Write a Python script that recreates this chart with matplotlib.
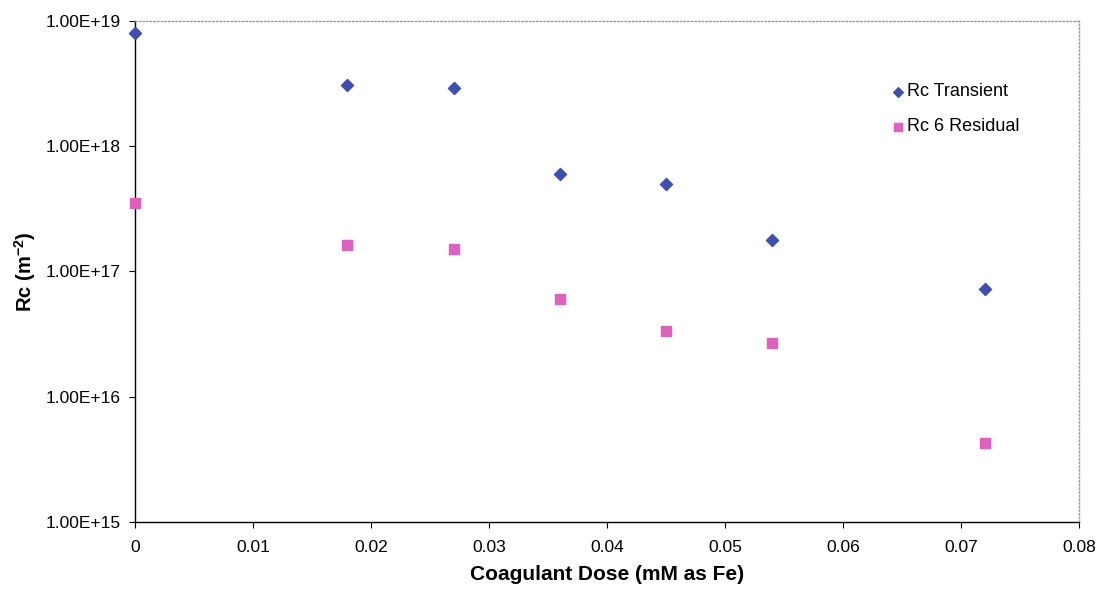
import numpy as np
import matplotlib.pyplot as plt
from matplotlib.ticker import FuncFormatter

# 数据
dose = [0, 0.018, 0.027, 0.036, 0.045, 0.054, 0.072]
rc_transient = [8.0e18, 3.1e18, 2.9e18, 6.0e17, 5.0e17, 1.8e17, 7.3e16]
rc_residual = [3.5e17, 1.63e17, 1.5e17, 6.0e16, 3.35e16, 2.7e16, 4.3e15]

plt.rcParams['font.family'] = ['Liberation Sans', 'DejaVu Sans']

fig = plt.figure(figsize=(11.03, 5.89), dpi=100)
ax = fig.add_axes([0.1224, 0.1138, 0.8559, 0.8505])

ax.scatter(dose, rc_transient, marker='D', s=38, color='#3f4fb0', label='Rc Transient', clip_on=False, zorder=3)
ax.scatter(dose, rc_residual, marker='s', s=48, color='#e060c0', label='Rc 6 Residual', clip_on=False, zorder=3)

ax.set_yscale('log')
ax.set_xlim(0, 0.08)
ax.set_ylim(1e15, 1e19)
ax.set_xticks(np.arange(0, 0.081, 0.01))
ax.set_xticklabels(['0', '0.01', '0.02', '0.03', '0.04', '0.05', '0.06', '0.07', '0.08'])
ax.set_yticks([1e15, 1e16, 1e17, 1e18, 1e19])
ax.yaxis.set_major_formatter(FuncFormatter(lambda v, p: '1.00E+%d' % round(np.log10(v))))
ax.yaxis.set_minor_locator(plt.NullLocator())
ax.tick_params(axis='both', direction='out', length=4, width=0.8, labelsize=12.5, colors='black')
ax.tick_params(axis='x', pad=9)
ax.tick_params(axis='y', pad=6)

for s in ['left', 'bottom']:
    ax.spines[s].set_color('black')
    ax.spines[s].set_linewidth(1.0)
for s in ['top', 'right']:
    ax.spines[s].set_color('#999999')
    ax.spines[s].set_linestyle(':')
    ax.spines[s].set_linewidth(1.0)

ax.set_xlabel('Coagulant Dose (mM as Fe)', fontsize=15, fontweight='bold', labelpad=7)
ax.set_ylabel('Rc (m$^{\\mathregular{-2}}$)', fontsize=14.5, fontweight='bold', labelpad=6)

ax.legend(loc='upper left', bbox_to_anchor=(0.781, 0.908), frameon=False, fontsize=13,
          handlelength=1.0, handletextpad=0.0, labelspacing=1.0, markerscale=0.8)

plt.savefig('out.png', dpi=100)
